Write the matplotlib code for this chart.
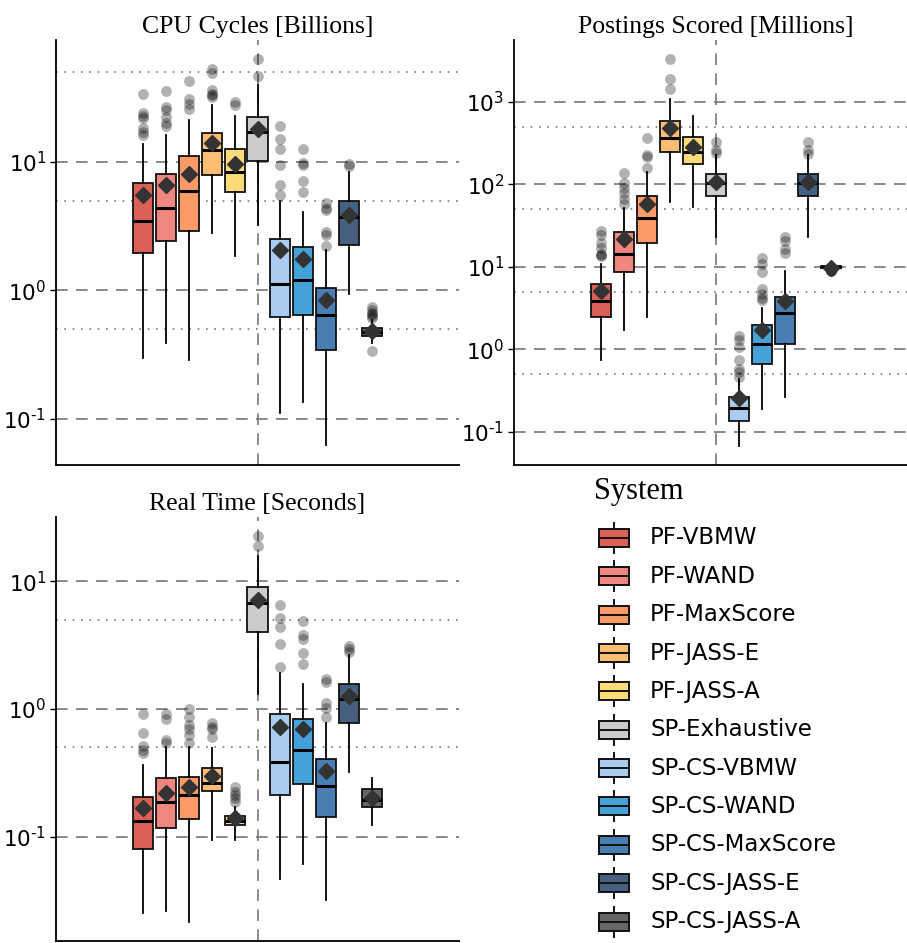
import matplotlib
matplotlib.use("Agg")
import matplotlib.pyplot as plt
from matplotlib.patches import Rectangle
from matplotlib.lines import Line2D
from matplotlib.ticker import FuncFormatter, LogLocator
import numpy as np

plt.rcParams["axes.unicode_minus"] = False

systems = ["PF-VBMW", "PF-WAND", "PF-MaxScore", "PF-JASS-E", "PF-JASS-A",
           "SP-Exhaustive", "SP-CS-VBMW", "SP-CS-WAND", "SP-CS-MaxScore",
           "SP-CS-JASS-E", "SP-CS-JASS-A"]
colors = ["#DB6055", "#F0877E", "#FC9B65", "#FDBE74", "#FEDB78", "#CCCCCC",
          "#AACCF0", "#45A2D8", "#4A7EB2", "#47607F", "#666666"]

# ---- CPU Cycles [Billions]
cpu_whislo = [0.297, 0.389, 0.285, 2.8, 1.84, 3.25, 0.111, 0.135, 0.062, 0.93, 0.389]
cpu_q1     = [1.95, 2.42, 2.88, 7.92, 5.81, 10.2, 0.616, 0.638, 0.345, 2.26, 0.444]
cpu_med    = [3.45, 4.35, 5.94, 12.3, 8.41, 17.2, 1.12, 1.2, 0.643, 3.75, 0.473]
cpu_q3     = [6.9, 8.1, 11.2, 16.7, 12.6, 22.5, 2.51, 2.16, 1.04, 4.94, 0.512]
cpu_whishi = [13.9, 16.3, 21.4, 27.8, 22.7, 39.5, 5.0, 4.07, 2.05, 8.3, 0.59]
cpu_mean   = [5.56, 6.58, 8.06, 14.1, 9.64, 18.0, 2.08, 1.75, 0.845, 3.89, 0.479]
cpu_fliers = [[34, 24, 23, 22, 18.5, 17, 16.3],
              [36, 27, 25.3, 22.4, 20, 19],
              [43, 31, 28.3, 26],
              [53, 49, 36.6, 34, 33, 32],
              [29.2, 28],
              [63.5, 46.5],
              [19, 15.1, 12.6, 9.4, 6.6, 5.5],
              [12.6, 9.8, 9.4, 7.06, 5.8],
              [4.8, 4.38, 4.2, 2.85, 2.69, 2.23],
              [9.7, 9.25],
              [0.74, 0.70, 0.67, 0.65, 0.63, 0.61, 0.335]]

# ---- Postings Scored [Millions]
pst_whislo = [0.741, 1.71, 2.48, 61.8, 53.7, 23.2, 0.0676, 0.192, 0.266, 23.2, 9.4]
pst_q1     = [2.44, 8.66, 19.3, 245, 175, 72.3, 0.136, 0.675, 1.15, 72.3, 9.75]
pst_med    = [3.85, 14.4, 39.2, 366, 247, 103, 0.194, 1.15, 2.8, 103, 10.0]
pst_q3     = [6.2, 26.2, 73, 594, 380, 132, 0.266, 1.97, 4.34, 132, 10.2]
pst_whishi = [11.0, 51.3, 140, 1077, 676, 227, 0.444, 3.14, 8.98, 227, 10.7]
pst_mean   = [5.14, 21.8, 57.8, 484, 284, 108, 0.259, 1.71, 3.85, 108, 9.8]
pst_fliers = [[27.2, 24.3, 19.3, 16.8, 14.3, 13.5, 13.8],
              [136, 103, 89.5, 78, 65.9, 57.8],
              [362, 227, 217, 160],
              [3296, 1902, 1427],
              [],
              [324, 262, 239],
              [1.45, 1.29, 1.08, 0.741, 0.586, 0.534, 0.465],
              [13.0, 11.0, 8.72, 5.33, 4.68, 4.15, 3.96],
              [23.2, 20.8, 16.3, 14.6],
              [324, 262, 235],
              [9.0, 9.1, 9.2, 9.3, 9.05]]

# ---- Real Time [Seconds]
rt_whislo = [0.0251, 0.0264, 0.0215, 0.0942, 0.0942, 1.31, 0.0463, 0.0611, 0.032, 0.322, 0.123]
rt_q1     = [0.0801, 0.118, 0.137, 0.228, 0.123, 4.04, 0.212, 0.258, 0.142, 0.784, 0.172]
rt_med    = [0.133, 0.186, 0.212, 0.264, 0.134, 6.78, 0.384, 0.476, 0.249, 1.19, 0.194]
rt_q3     = [0.206, 0.286, 0.294, 0.347, 0.146, 8.98, 0.906, 0.842, 0.403, 1.56, 0.236]
rt_whishi = [0.364, 0.506, 0.506, 0.497, 0.172, 15.8, 1.92, 1.56, 0.78, 2.64, 0.286]
rt_mean   = [0.169, 0.221, 0.243, 0.3, 0.141, 7.1, 0.726, 0.692, 0.328, 1.26, 0.2]
rt_fliers = [[0.906, 0.652, 0.512, 0.476, 0.454],
             [0.922, 0.842, 0.577, 0.543],
             [0.994, 0.869, 0.748, 0.692, 0.624, 0.543],
             [0.78, 0.726, 0.692, 0.606],
             [0.243, 0.225, 0.212, 0.2, 0.188],
             [22.6, 18.8],
             [6.49, 5.2, 4.35, 3.22, 2.14],
             [4.86, 3.78, 3.56, 2.75, 2.27],
             [1.73, 1.63, 1.11, 1.01, 0.869],
             [3.12, 2.94, 2.8],
             []]

W, H = 907, 943
fig = plt.figure(figsize=(W / 100, H / 100), dpi=100)

def ax_at(l, r, t, b):
    return fig.add_axes([l / W, 1 - b / H, (r - l) / W, (b - t) / H])

serif = ["Liberation Serif", "DejaVu Serif"]
sans = ["DejaVu Sans"]

n = len(systems)
dodge = 0.75
step = dodge / n
positions = [1 + (i - (n - 1) / 2) * step for i in range(n)]
bw = step * 0.88


def fmt_pow(v, pos):
    e = int(round(np.log10(v)))
    if e < 0:
        return r"$\mathdefault{10^{\text{-}%d}}$" % (-e)
    return r"$\mathdefault{10^{%d}}$" % e


def panel(ax, title, lo, q1, med, q3, hi, mean, fliers, ylim, minor):
    stats = []
    for i in range(n):
        stats.append(dict(whislo=lo[i], q1=q1[i], med=med[i], q3=q3[i],
                          whishi=hi[i], mean=mean[i], fliers=fliers[i]))
    ax.set_yscale("log")
    ax.set_ylim(*ylim)
    ax.set_xlim(0.4, 1.6)
    for y in minor:
        ax.axhline(y, color="#777777", lw=1.2, ls=(0, (1, 4)), zorder=0)
    ax.yaxis.grid(True, which="major", color="#777777", lw=1.2, ls=(0, (7, 5)), zorder=0)
    ax.axvline(1.0, color="#777777", lw=1.2, ls=(0, (7, 5)), zorder=0)
    ax.set_axisbelow(True)
    res = ax.bxp(stats, positions=positions, widths=bw, patch_artist=True,
                 showmeans=True, showcaps=False, manage_ticks=False,
                 boxprops=dict(edgecolor="#111111", linewidth=1.3),
                 medianprops=dict(color="black", linewidth=2.2),
                 whiskerprops=dict(color="black", linewidth=1.3),
                 meanprops=dict(marker="D", markerfacecolor="#333333",
                                markeredgecolor="#333333", markersize=8),
                 flierprops=dict(marker="o", markerfacecolor="black",
                                 markeredgecolor="none", markersize=7.8, alpha=0.3))
    for patch, c in zip(res["boxes"], colors):
        patch.set_facecolor(c)
    ax.set_xticks([])
    ax.yaxis.set_major_locator(LogLocator(base=10))
    ax.yaxis.set_major_formatter(FuncFormatter(fmt_pow))
    ax.minorticks_off()
    for s in ["top", "right"]:
        ax.spines[s].set_visible(False)
    for s in ["left", "bottom"]:
        ax.spines[s].set_linewidth(1.3)
    ax.tick_params(axis="y", which="major", length=4, width=1.0, labelsize=15.5, pad=3)
    for lab in ax.get_yticklabels():
        lab.set_family(sans)
    ax.set_title(title, family=serif, fontsize=18.5, pad=5)

ax1 = ax_at(56, 459, 40, 465)
panel(ax1, "CPU Cycles [Billions]", cpu_whislo, cpu_q1, cpu_med, cpu_q3, cpu_whishi,
      cpu_mean, cpu_fliers, (10 ** -1.36, 10 ** 1.95), [50, 5, 0.5])
ax2 = ax_at(514, 918, 40, 465)
panel(ax2, "Postings Scored [Millions]", pst_whislo, pst_q1, pst_med, pst_q3, pst_whishi,
      pst_mean, pst_fliers, (10 ** -1.40, 10 ** 3.75), [500, 50, 5, 0.5])
ax3 = ax_at(56, 459, 517, 941)
panel(ax3, "Real Time [Seconds]", rt_whislo, rt_q1, rt_med, rt_q3, rt_whishi,
      rt_mean, rt_fliers, (10 ** -1.816, 10 ** 1.503), [5, 0.5])

# ---- legend
lax = fig.add_axes([0, 0, 1, 1])
lax.set_xlim(0, W)
lax.set_ylim(H, 0)
lax.axis("off")
lax.text(594, 492, "System", family=serif, fontsize=22, va="center", ha="left")
for i, (name, c) in enumerate(zip(systems, colors)):
    yc = 538 + 38.35 * i
    lax.add_line(Line2D([614, 614], [yc - 15, yc + 15], color="#111111", lw=1.4, zorder=1))
    lax.add_patch(Rectangle((599, yc - 9), 30, 18, facecolor=c,
                            edgecolor="#111111", lw=1.4, zorder=2))
    lax.add_line(Line2D([599, 629], [yc, yc], color="#111111", lw=1.4, zorder=3))
    lax.text(650, yc, name, family=sans, fontsize=16.5, va="center", ha="left")

fig.savefig("out.png", dpi=100)
